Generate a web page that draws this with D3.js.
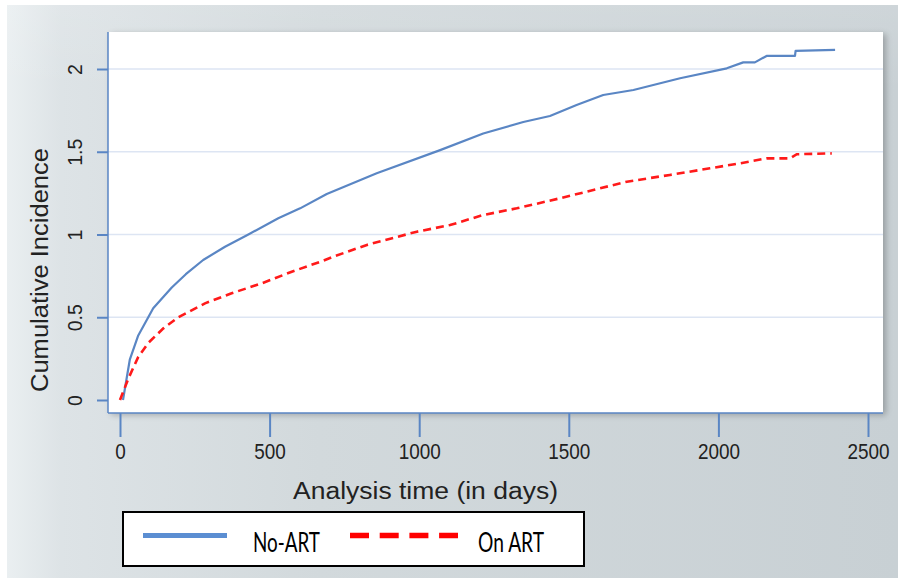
<!DOCTYPE html>
<html>
<head>
<meta charset="utf-8">
<script src="https://cdn.jsdelivr.net/npm/d3@7"></script>
<style>
  html, body { margin: 0; padding: 0; background: #ffffff; }
  svg { display: block; }
</style>
</head>
<body>
<svg id="chart" width="898" height="578"></svg>
<script>
// Cumulative incidence over follow-up, by ART status
const noArtDays = [10, 33, 61, 111, 173, 220, 278, 351, 429, 529, 602, 691, 858, 1070, 1214, 1348, 1437, 1526, 1615, 1716, 1872, 2028, 2083, 2122, 2161, 2256, 2258, 2390];
const noArtCI   = [0, 0.246, 0.39, 0.554, 0.68, 0.76, 0.846, 0.926, 1.0, 1.098, 1.158, 1.245, 1.37, 1.51, 1.61, 1.68, 1.716, 1.782, 1.843, 1.873, 1.944, 2.004, 2.04, 2.04, 2.079, 2.079, 2.109, 2.115];

const onArtDays = [0, 28, 61, 95, 145, 195, 284, 373, 474, 574, 680, 713, 825, 992, 1103, 1214, 1326, 1471, 1582, 1694, 1838, 1972, 2072, 2161, 2239, 2262, 2379];
const onArtCI   = [0, 0.13, 0.26, 0.346, 0.433, 0.5, 0.584, 0.645, 0.705, 0.775, 0.842, 0.866, 0.937, 1.017, 1.057, 1.118, 1.158, 1.219, 1.269, 1.319, 1.36, 1.4, 1.43, 1.46, 1.46, 1.485, 1.49];

const xTicks = [0, 500, 1000, 1500, 2000, 2500];
const yTicks = [0, 0.5, 1, 1.5, 2];
const seriesNames = ["No-ART", "On ART"];

const svg = d3.select("#chart");
const W = 898, H = 578;
const box = { left: 108, top: 32, right: 883, bottom: 413 };

const x = d3.scaleLinear().domain([0, 2500]).range([120, 868]);
const y = d3.scaleLinear().domain([0, 2]).range([400, 69]);

const blue = "#5a86c4";
const red = "#ff1a1a";

// background
const defs = svg.append("defs");
const bg = defs.append("linearGradient").attr("id", "bg").attr("x1", 0).attr("x2", 1).attr("y1", 0).attr("y2", 0);
bg.append("stop").attr("offset", 0).attr("stop-color", "#eaeff1");
bg.append("stop").attr("offset", 0.06).attr("stop-color", "#dde3e6");
bg.append("stop").attr("offset", 0.35).attr("stop-color", "#d2d9dc");
bg.append("stop").attr("offset", 1).attr("stop-color", "#c8d0d4");
const bgV = defs.append("linearGradient").attr("id", "bgV").attr("x1", 0).attr("x2", 0).attr("y1", 0).attr("y2", 1);
bgV.append("stop").attr("offset", 0).attr("stop-color", "#ffffff").attr("stop-opacity", 0.12);
bgV.append("stop").attr("offset", 0.15).attr("stop-color", "#ffffff").attr("stop-opacity", 0);
bgV.append("stop").attr("offset", 1).attr("stop-color", "#ffffff").attr("stop-opacity", 0);
const sh = defs.append("filter").attr("id", "shadow").attr("x", -0.05).attr("y", -0.05).attr("width", 1.1).attr("height", 1.1);
sh.append("feGaussianBlur").attr("in", "SourceAlpha").attr("stdDeviation", 3);
sh.append("feOffset").attr("dx", 3).attr("dy", 2).attr("result", "b");
sh.append("feComponentTransfer").append("feFuncA").attr("type", "linear").attr("slope", 0.25);
const mg = sh.append("feMerge");
mg.append("feMergeNode");
mg.append("feMergeNode").attr("in", "SourceGraphic");

svg.append("rect").attr("width", W).attr("height", H).attr("fill", "#ffffff");
svg.append("rect").attr("x", 7).attr("y", 5).attr("width", W - 7).attr("height", H - 5).attr("fill", "url(#bg)");
svg.append("rect").attr("x", 7).attr("y", 5).attr("width", W - 7).attr("height", H - 5).attr("fill", "url(#bgV)");

// plot region
svg.append("rect")
  .attr("x", box.left).attr("y", box.top)
  .attr("width", box.right - box.left).attr("height", box.bottom - box.top)
  .attr("fill", "#ffffff").attr("filter", "url(#shadow)");

// gridlines
svg.append("g").selectAll("line").data(yTicks.filter(d => d > 0)).join("line")
  .attr("x1", box.left).attr("x2", box.right)
  .attr("y1", d => y(d)).attr("y2", d => y(d))
  .attr("stroke", "#dde5f3").attr("stroke-width", 1.5);

// axis lines
svg.append("line").attr("x1", box.left).attr("x2", box.left).attr("y1", box.top).attr("y2", box.bottom)
  .attr("stroke", blue).attr("stroke-width", 1.5);
svg.append("line").attr("x1", box.left).attr("x2", box.right).attr("y1", box.bottom).attr("y2", box.bottom)
  .attr("stroke", blue).attr("stroke-width", 1.5);

// x axis
const xAxis = svg.append("g").attr("transform", `translate(0,${box.bottom})`)
  .call(d3.axisBottom(x).tickValues(xTicks).tickSize(24).tickPadding(6).tickFormat(d3.format("d")));
xAxis.select(".domain").remove();
xAxis.selectAll(".tick line").attr("stroke", blue).attr("stroke-width", 2);
xAxis.selectAll(".tick text")
  .attr("font-family", "'Liberation Sans', Arial, sans-serif").attr("font-size", 22)
  .attr("fill", "#222").attr("transform", "scale(0.86,1)");

// y axis
const yAxis = svg.append("g").attr("transform", `translate(${box.left},0)`)
  .call(d3.axisLeft(y).tickValues(yTicks).tickSize(11).tickFormat(d => d3.format("")(d)));
yAxis.select(".domain").remove();
yAxis.selectAll(".tick line").attr("stroke", blue).attr("stroke-width", 2);
yAxis.selectAll(".tick text")
  .attr("font-family", "'Liberation Sans', Arial, sans-serif").attr("font-size", 21)
  .attr("fill", "#222")
  .attr("x", null).attr("dy", null)
  .attr("text-anchor", "middle")
  .attr("transform", "translate(-26,0) rotate(-90) scale(0.93,1)");

// axis titles
svg.append("text")
  .attr("x", 293).attr("y", 499)
  .attr("font-family", "'Liberation Sans', Arial, sans-serif").attr("font-size", 23)
  .attr("fill", "#222")
  .attr("textLength", 265).attr("lengthAdjust", "spacingAndGlyphs")
  .text("Analysis time (in days)");
svg.append("text")
  .attr("transform", "translate(48,392) rotate(-90)")
  .attr("font-family", "'Liberation Sans', Arial, sans-serif").attr("font-size", 23)
  .attr("fill", "#222")
  .attr("textLength", 244).attr("lengthAdjust", "spacingAndGlyphs")
  .text("Cumulative Incidence");

// curves
const line = d3.line().x(d => x(d[0])).y(d => y(d[1]));
const noArt = noArtDays.map((d, i) => [d, noArtCI[i]]);
const onArt = onArtDays.map((d, i) => [d, onArtCI[i]]);

svg.append("path").datum(noArt).attr("d", line)
  .attr("fill", "none").attr("stroke", blue).attr("stroke-width", 2.2).attr("stroke-linejoin", "round");
svg.append("path").datum(onArt).attr("d", line)
  .attr("fill", "none").attr("stroke", red).attr("stroke-width", 2.6).attr("stroke-dasharray", "8,5");

// legend
const lg = svg.append("g");
lg.append("rect").attr("x", 123).attr("y", 512).attr("width", 461).attr("height", 54)
  .attr("fill", "#ffffff").attr("stroke", "#000").attr("stroke-width", 2);
lg.append("line").attr("x1", 143).attr("x2", 227).attr("y1", 535.5).attr("y2", 535.5)
  .attr("stroke", "#5b8ed2").attr("stroke-width", 5);
lg.append("line").attr("x1", 350).attr("x2", 458).attr("y1", 535.5).attr("y2", 535.5)
  .attr("stroke", "#ff0000").attr("stroke-width", 5.5).attr("stroke-dasharray", "19,10.7");
lg.append("text").attr("x", 253).attr("y", 551.5)
  .attr("font-family", "Lato, 'Open Sans', sans-serif").attr("font-size", 27).attr("fill", "#000")
  .attr("textLength", 67).attr("lengthAdjust", "spacingAndGlyphs")
  .text(seriesNames[0]);
lg.append("text").attr("x", 478).attr("y", 551.5)
  .attr("font-family", "Lato, 'Open Sans', sans-serif").attr("font-size", 27).attr("fill", "#000")
  .attr("textLength", 66).attr("lengthAdjust", "spacingAndGlyphs")
  .text(seriesNames[1]);
</script>
</body>
</html>
